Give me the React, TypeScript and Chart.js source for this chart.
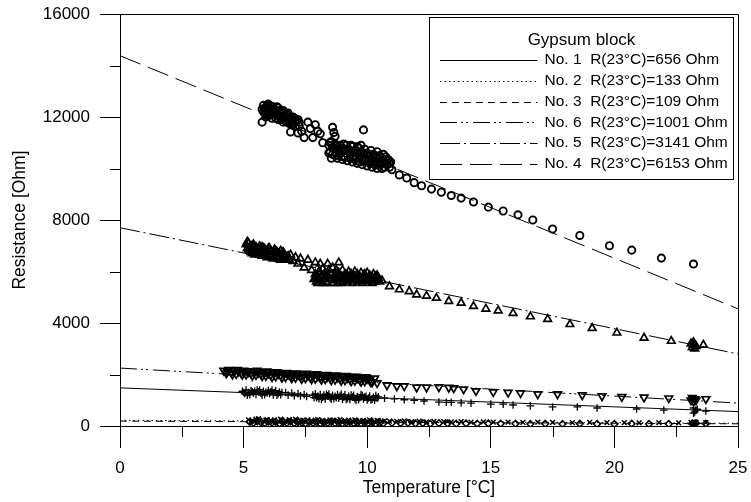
import React, { useEffect, useRef } from 'react';
import { Chart, registerables } from 'chart.js';

Chart.register(...registerables);

// ---------- data ----------
const xTickValues = [0, 5, 10, 15, 20, 25];
const yTickValues = [0, 4000, 8000, 12000, 16000];
const xMinorTicks = [2.5, 7.5, 12.5, 17.5, 22.5];
const yMinorTicks = [2000, 6000, 10000, 14000];

const legendTitle = 'Gypsum block';
const seriesNames = [
  'No. 1  R(23°C)=656 Ohm',
  'No. 2  R(23°C)=133 Ohm',
  'No. 3  R(23°C)=109 Ohm',
  'No. 6  R(23°C)=1001 Ohm',
  'No. 5  R(23°C)=3141 Ohm',
  'No. 4  R(23°C)=6153 Ohm',
];

// fitted lines: value at T=0 and T=25
const fitX = [0, 25];
const fitNo1 = [1480, 560];
const fitNo2 = [220, 105];
const fitNo3 = [190, 85];
const fitNo6 = [2250, 890];
const fitNo5 = [7700, 2800];
const fitNo4 = [14380, 4550];

// measured points [T, R]
const no4Points = [
  [5.75, 12300], [5.8, 12450], [5.85, 12150], [5.9, 12380], [5.95, 12250], [6.0, 12500], [6.0, 12050],
  [6.05, 12320], [6.1, 12200], [6.15, 12420], [6.2, 12100], [6.25, 12300], [6.3, 11950], [6.35, 12200],
  [6.4, 12350], [6.45, 12050], [6.5, 12150], [6.55, 11900], [6.6, 12250], [6.65, 12000], [6.7, 11850],
  [6.75, 12100], [6.8, 11950], [6.85, 11750], [6.9, 12000], [6.95, 11850], [7.0, 11700], [7.05, 11950],
  [7.1, 11800], [7.2, 11900], [5.75, 11800], [5.9, 12100], [6.9, 11420], [7.2, 11380],
  [5.8, 12200], [5.85, 12350], [5.9, 12000], [5.95, 12450], [6.05, 12150], [6.1, 12400], [6.15, 11950],
  [6.2, 12300], [6.3, 12150], [6.35, 12400], [6.4, 11900], [6.45, 12250], [6.5, 12000], [6.55, 12200],
  [6.6, 11800], [6.7, 12050], [6.75, 11800], [6.8, 12150], [6.85, 11950], [6.95, 11700], [7.0, 12000],
  [7.1, 11650], [7.15, 11850], [7.25, 11800],
  [7.25, 11650], [7.35, 11450], [7.45, 11200], [7.6, 11800], [7.7, 11550], [7.8, 11200], [7.9, 11700],
  [8.0, 11450], [8.1, 11350], [8.2, 11000], [8.6, 11600], [8.65, 11400], [8.7, 11250], [9.85, 11500],
  [8.45, 10900], [8.5, 10650], [8.55, 11050], [8.6, 10550], [8.65, 10800], [8.7, 10950], [8.75, 10600],
  [8.8, 10750], [8.85, 10500], [8.9, 10900], [8.95, 10650], [9.0, 10800], [9.05, 10450], [9.1, 10700],
  [9.15, 10900], [9.2, 10550], [9.25, 10750], [9.3, 10400], [9.35, 10650], [9.4, 10850], [9.45, 10500],
  [9.5, 10700], [9.55, 10400], [9.6, 10600], [9.65, 10800], [9.7, 10450], [9.75, 10650], [9.8, 10350],
  [9.85, 10550], [9.9, 10750], [9.95, 10400], [10.0, 10600], [10.05, 10300], [10.1, 10500], [10.15, 10700],
  [10.2, 10350], [10.25, 10550], [10.3, 10250], [10.35, 10450], [10.4, 10650], [10.45, 10300], [10.5, 10500],
  [10.55, 10200], [10.6, 10400], [10.65, 10550], [10.7, 10250], [10.75, 10450], [10.8, 10150], [10.85, 10350],
  [10.9, 10050], [10.95, 10250],
  [8.45, 10600], [8.5, 11000], [8.6, 10800], [8.7, 10500], [8.8, 10400], [8.9, 10600], [9.0, 10350],
  [9.1, 10450], [9.2, 10300], [9.3, 10650], [9.4, 10250], [9.5, 10350], [9.6, 10200], [9.7, 10250],
  [9.8, 10150], [9.9, 10300], [10.0, 10100], [10.1, 10200], [10.2, 10050], [10.3, 10150], [10.4, 10000],
  [10.5, 10100], [10.6, 10000], [10.7, 10050], [10.8, 10300], [10.9, 10200], [8.55, 10400], [8.75, 10900],
  [9.05, 10950], [9.35, 10900], [9.6, 10850], [9.75, 10900],
  [11.0, 9950], [11.3, 9750], [11.6, 9630], [11.9, 9450], [12.2, 9330], [12.6, 9200], [13.0, 9080],
  [13.4, 8950], [13.8, 8850], [14.3, 8700], [14.9, 8500], [15.5, 8350], [16.1, 8200], [16.7, 8000],
  [17.5, 7650], [18.6, 7400], [19.8, 7000], [20.7, 6830], [21.9, 6520], [23.2, 6290],
];

const no5Points = [
  [5.1, 7050], [5.15, 6900], [5.2, 7100], [5.25, 6800], [5.3, 6980], [5.35, 6700], [5.4, 7050], [5.45, 6850],
  [5.5, 6950], [5.55, 6750], [5.6, 6900], [5.65, 6650], [5.7, 6850], [5.75, 6950], [5.8, 6700], [5.85, 6880],
  [5.9, 6600], [5.95, 6800], [6.0, 6900], [6.05, 6650], [6.1, 6800], [6.15, 6550], [6.2, 6750], [6.25, 6850],
  [6.3, 6600], [6.35, 6750], [6.4, 6500], [6.45, 6700], [6.5, 6800], [6.55, 6550], [6.6, 6650], [6.7, 6450],
  [6.8, 6600],
  [5.15, 7150], [5.2, 6850], [5.3, 6750], [5.35, 7000], [5.45, 6650], [5.5, 6800], [5.6, 6700], [5.65, 6980],
  [5.75, 6600], [5.8, 6900], [5.9, 6800], [5.95, 6550], [6.05, 6900], [6.1, 6600], [6.2, 6500], [6.3, 6800],
  [6.4, 6700], [6.5, 6450], [6.6, 6750], [6.7, 6600], [6.75, 6500], [6.85, 6450],
  [6.9, 6650], [7.0, 6400], [7.1, 6550], [7.2, 6300], [7.3, 6500], [7.45, 6150], [7.6, 6450],
  [7.75, 6050], [7.9, 6350], [8.1, 6300], [8.4, 6300], [8.85, 6350],
  [7.85, 5700], [7.9, 5900], [7.95, 5600], [8.0, 5800], [8.05, 6000], [8.1, 5650], [8.15, 5850], [8.2, 6100],
  [8.25, 5700], [8.3, 5950], [8.35, 5600], [8.4, 5800], [8.45, 6050], [8.5, 5700], [8.55, 5900], [8.6, 6150],
  [8.65, 5650], [8.7, 5850], [8.75, 6050], [8.8, 5700], [8.85, 5950], [8.9, 5600], [8.95, 5800], [9.0, 6050],
  [9.05, 5700], [9.1, 5900], [9.15, 5650], [9.2, 5850], [9.25, 6000], [9.3, 5700], [9.35, 5900], [9.4, 5650],
  [9.45, 5850], [9.5, 6000], [9.55, 5700], [9.6, 5900], [9.65, 5650], [9.7, 5800], [9.75, 5950], [9.8, 5700],
  [9.85, 5850], [9.9, 5650], [9.95, 5800], [10.0, 5950], [10.05, 5700], [10.1, 5850], [10.15, 5650],
  [10.2, 5800], [10.25, 5900], [10.3, 5700], [10.35, 5800], [10.4, 5650], [10.45, 5750],
  [7.9, 5750], [8.0, 5550], [8.1, 5950], [8.2, 5550], [8.3, 5800], [8.4, 5550], [8.5, 5950], [8.6, 5550],
  [8.7, 5700], [8.8, 5550], [8.9, 5850], [9.0, 5550], [9.1, 5750], [9.2, 5600], [9.3, 5800], [9.4, 5550],
  [9.5, 5800], [9.6, 5600], [9.7, 5650], [9.8, 5550], [9.9, 5900], [10.0, 5600], [10.1, 5750], [10.2, 5550],
  [10.3, 5600], [10.4, 5850], [10.5, 5600],
  [10.6, 5650], [10.9, 5420], [11.3, 5300], [11.7, 5230], [12.0, 5100], [12.4, 5050], [12.8, 4970],
  [13.3, 4850], [13.8, 4780], [14.3, 4650], [14.8, 4550], [15.3, 4480], [15.9, 4380], [16.6, 4250],
  [17.3, 4150], [18.2, 3950], [19.1, 3800], [20.1, 3620], [21.2, 3420], [22.3, 3300],
  [23.1, 3200], [23.15, 3050], [23.2, 3150], [23.25, 3000], [23.3, 3100], [23.2, 3250], [23.6, 3150],
];

const no6Points = [
  [4.2, 2150], [4.3, 2050], [4.4, 2180], [4.5, 2080], [4.6, 2150], [4.7, 2020], [4.8, 2120], [4.9, 2060],
  [5.0, 2150], [5.1, 2000], [5.2, 2100], [5.3, 2050], [5.4, 2130], [5.5, 1980], [5.6, 2080], [5.7, 2020],
  [5.8, 2100], [5.9, 1950], [6.0, 2050], [6.1, 1990], [6.2, 2080], [6.3, 1930], [6.4, 2030], [6.5, 1970],
  [6.6, 2050], [6.7, 1900], [6.8, 2000], [6.9, 1940], [7.0, 2030], [7.1, 1880], [7.2, 1980], [7.3, 1920],
  [7.4, 2010], [7.5, 1860], [7.6, 1960], [7.7, 1900], [7.8, 1990], [7.9, 1840], [8.0, 1940], [8.1, 1880],
  [8.2, 1970], [8.3, 1820], [8.4, 1920], [8.5, 1860], [8.6, 1950], [8.7, 1800], [8.8, 1900], [8.9, 1840],
  [9.0, 1930], [9.1, 1780], [9.2, 1880], [9.3, 1820], [9.4, 1910], [9.5, 1760], [9.6, 1860], [9.7, 1800],
  [9.8, 1890], [9.9, 1740], [10.0, 1840], [10.1, 1780], [10.2, 1700],
  [4.35, 2120], [4.55, 2000], [4.75, 2180], [4.95, 1990], [5.15, 2130], [5.35, 1950], [5.55, 2150],
  [5.75, 1940], [5.95, 2120], [6.15, 1900], [6.35, 2100], [6.55, 1880], [6.75, 2070], [6.95, 1860],
  [7.15, 2050], [7.35, 1830], [7.55, 2040], [7.75, 1820], [7.95, 2020], [8.15, 1800], [8.35, 1990],
  [8.55, 1780], [8.75, 1970], [8.95, 1760], [9.15, 1950], [9.35, 1740], [9.55, 1920], [9.75, 1720],
  [9.95, 1900], [10.15, 1700], [10.3, 1850],
  [10.4, 1670], [10.8, 1590], [11.2, 1550], [11.5, 1550], [12.0, 1500], [12.4, 1500], [12.9, 1510],
  [13.3, 1490], [13.5, 1470], [13.9, 1430], [14.4, 1360], [15.1, 1320], [15.7, 1300], [16.2, 1280],
  [16.9, 1240], [17.7, 1240], [18.7, 1200], [19.5, 1160], [20.3, 1130], [21.2, 1110], [22.2, 1080],
  [23.1, 1000], [23.15, 1100], [23.2, 950], [23.25, 1050], [23.3, 1000], [23.7, 1050],
];

const no1Points = [
  [4.95, 1350], [5.05, 1250], [5.1, 1400], [5.2, 1300], [5.25, 1220], [5.3, 1380], [5.4, 1280], [5.45, 1350],
  [5.5, 1230], [5.6, 1330], [5.65, 1400], [5.7, 1270], [5.8, 1350], [5.85, 1220], [5.9, 1310], [6.0, 1380],
  [6.05, 1260], [6.1, 1330], [6.2, 1210], [6.25, 1300], [6.3, 1370], [6.4, 1250], [6.45, 1320], [6.5, 1220],
  [5.0, 1300], [5.15, 1200], [5.35, 1330], [5.55, 1400], [5.75, 1200], [5.95, 1280], [6.15, 1400],
  [6.35, 1200], [6.55, 1300],
  [6.7, 1300], [6.8, 1200], [6.95, 1280], [7.05, 1180], [7.2, 1250], [7.3, 1170], [7.45, 1220], [7.55, 1150],
  [7.8, 1200], [7.85, 1100], [7.9, 1250], [8.0, 1150], [8.05, 1060], [8.1, 1220], [8.2, 1120], [8.25, 1200],
  [8.3, 1050], [8.4, 1170], [8.45, 1240], [8.5, 1100], [8.6, 1190], [8.65, 1060], [8.7, 1150], [8.8, 1220],
  [8.85, 1080], [8.9, 1160], [9.0, 1040], [9.05, 1130], [9.1, 1210], [9.2, 1070], [9.25, 1150], [9.3, 1030],
  [9.4, 1120], [9.45, 1190], [9.5, 1060], [9.6, 1140], [9.65, 1020], [9.7, 1100], [9.8, 1180], [9.85, 1050],
  [9.9, 1120], [10.0, 1010], [10.05, 1090], [10.1, 1160], [10.2, 1040], [10.25, 1110], [10.3, 1000],
  [10.4, 1080], [10.45, 1130],
  [7.95, 1100], [8.15, 1040], [8.35, 1230], [8.55, 1040], [8.75, 1100], [8.95, 1230], [9.15, 1030],
  [9.35, 1200], [9.55, 1000], [9.75, 1220], [9.95, 1150], [10.15, 1010], [10.35, 1180],
  [10.7, 1080], [11.1, 1050], [11.5, 1020], [11.9, 1000], [12.3, 970], [12.9, 930], [13.2, 920], [13.4, 920],
  [13.8, 900], [14.2, 890], [15.0, 850], [15.5, 850], [15.9, 815], [16.6, 780], [17.5, 740], [18.5, 740],
  [19.3, 700], [20.9, 660], [22.0, 620],
  [23.2, 700], [23.25, 550], [23.3, 620], [23.2, 500], [23.35, 650], [23.7, 580],
];

const no2Points = [
  [5.2, 240], [5.35, 200], [5.5, 260], [5.65, 220], [5.8, 190], [5.95, 250], [6.1, 210], [6.25, 240],
  [6.4, 180], [6.55, 230], [6.7, 200], [6.85, 250], [7.0, 190], [7.15, 230], [7.3, 210], [7.45, 180],
  [7.6, 240], [7.75, 200], [7.9, 230], [8.05, 180], [8.2, 220], [8.35, 200], [8.5, 240], [8.65, 190],
  [8.8, 220], [8.95, 180], [9.1, 210], [9.25, 230], [9.4, 190], [9.55, 210], [9.7, 180], [9.85, 220],
  [10.0, 190], [10.15, 210], [10.3, 170], [10.45, 200], [10.6, 180],
  [5.3, 180], [5.6, 280], [5.9, 230], [6.2, 170], [6.5, 260], [6.8, 180], [7.1, 260], [7.4, 230],
  [7.7, 170], [8.0, 250], [8.3, 170], [8.6, 220], [8.9, 250], [9.2, 170], [9.5, 240], [9.8, 190],
  [10.1, 240], [10.4, 220], [10.7, 200],
  [10.9, 190], [11.2, 180], [11.5, 200], [11.8, 170], [12.1, 190], [12.4, 160], [12.7, 180], [13.1, 170],
  [13.4, 160], [13.8, 170], [14.2, 150], [14.7, 160], [15.1, 150], [15.7, 150], [16.3, 140], [16.9, 150],
  [17.5, 140], [18.3, 130], [19.0, 140], [19.7, 130], [20.4, 130], [21.0, 120], [21.8, 130], [22.6, 120],
  [23.1, 140], [23.2, 110], [23.3, 150], [23.25, 90], [23.7, 130],
];

const no3Points = [
  [5.25, 160], [5.4, 120], [5.55, 180], [5.7, 140], [5.85, 110], [6.0, 170], [6.15, 130], [6.3, 160],
  [6.45, 100], [6.6, 150], [6.75, 120], [6.9, 170], [7.05, 110], [7.2, 150], [7.35, 130], [7.5, 100],
  [7.65, 160], [7.8, 120], [7.95, 150], [8.1, 100], [8.25, 140], [8.4, 120], [8.55, 160], [8.7, 110],
  [8.85, 140], [9.0, 100], [9.15, 130], [9.3, 150], [9.45, 110], [9.6, 130], [9.75, 100], [9.9, 140],
  [10.05, 110], [10.2, 130], [10.35, 90], [10.5, 120], [10.65, 100],
  [11.0, 120], [11.35, 110], [11.65, 120], [11.95, 100], [12.25, 110], [12.55, 90], [12.9, 110],
  [13.25, 100], [13.6, 90], [14.0, 100], [14.45, 90], [14.9, 100], [15.4, 90], [16.0, 90], [16.6, 80],
  [17.2, 90], [17.9, 80], [18.6, 90], [19.3, 80], [20.0, 80], [20.7, 90], [21.4, 80], [22.2, 80],
  [23.15, 100], [23.2, 60], [23.3, 110], [23.7, 90],
];

// ---------- styling ----------
const FONT = '"Liberation Sans", Arial, Helvetica, sans-serif';
const dashNo1: number[] = [];
const dashNo2 = [1.5, 3];
const dashNo3 = [7, 5];
const dashNo6 = [17, 4, 2, 3, 2, 5];
const dashNo5 = [20, 4, 2, 4];
const dashNo4 = [22, 8];
const legendDashes = [dashNo1, dashNo2, dashNo3, dashNo6, dashNo5, dashNo4];

const toXY = (pts: number[][]) => pts.map(([x, y]) => ({ x, y }));
const fitXY = (vals: number[]) => fitX.map((x, i) => ({ x, y: vals[i] }));

const frameAndLegend = {
  id: 'frameAndLegend',
  afterDraw(chart: any) {
    const { ctx, chartArea, scales } = chart;
    const { left, right, top, bottom } = chartArea;
    ctx.save();
    ctx.strokeStyle = '#000';
    ctx.lineWidth = 1;
    ctx.setLineDash([]);
    // top & right frame
    ctx.beginPath();
    ctx.moveTo(left, Math.round(top) + 0.5);
    ctx.lineTo(Math.round(right) + 0.5, Math.round(top) + 0.5);
    ctx.lineTo(Math.round(right) + 0.5, bottom);
    ctx.stroke();
    // minor ticks
    ctx.beginPath();
    xMinorTicks.forEach((v) => {
      const px = Math.round(scales.x.getPixelForValue(v)) + 0.5;
      ctx.moveTo(px, bottom);
      ctx.lineTo(px, bottom + 11);
    });
    yMinorTicks.forEach((v) => {
      const py = Math.round(scales.y.getPixelForValue(v)) + 0.5;
      ctx.moveTo(left, py);
      ctx.lineTo(left - 10, py);
    });
    ctx.stroke();

    // legend box
    const bx = Math.round(right - 309) + 0.5;
    const by = Math.round(top + 3) + 0.5;
    const bw = 304;
    const bh = 162;
    ctx.fillStyle = '#fff';
    ctx.fillRect(bx, by, bw, bh);
    ctx.strokeRect(bx, by, bw, bh);
    ctx.fillStyle = '#000';
    ctx.textBaseline = 'middle';
    ctx.textAlign = 'center';
    ctx.font = `17px ${FONT}`;
    ctx.fillText(legendTitle, bx + bw / 2, top + 26);
    ctx.textAlign = 'left';
    ctx.font = `15.5px ${FONT}`;
    seriesNames.forEach((name, i) => {
      const ry = top + 46 + i * 20.8;
      ctx.setLineDash(legendDashes[i]);
      ctx.beginPath();
      ctx.moveTo(bx + 10.5, Math.round(ry) + 0.5);
      ctx.lineTo(bx + 108, Math.round(ry) + 0.5);
      ctx.stroke();
      ctx.setLineDash([]);
      ctx.fillText(name, bx + 115, ry);
    });
    ctx.restore();
  },
};

const zeroPad = (s: any) => {
  s.paddingTop = 0;
  s.paddingBottom = 0;
  s.paddingLeft = 0;
  s.paddingRight = 0;
};

export default function App() {
  const canvasRef = useRef<HTMLCanvasElement | null>(null);

  useEffect(() => {
    document.body.style.margin = '0';
    const canvas = canvasRef.current;
    if (!canvas) return;

    const markerBase = {
      showLine: false,
      borderColor: '#000',
      backgroundColor: 'rgba(0,0,0,0)',
      pointBorderColor: '#000',
      pointBackgroundColor: 'rgba(0,0,0,0)',
    };
    const fitBase = {
      showLine: true,
      borderColor: '#000',
      borderWidth: 1,
      pointRadius: 0,
      fill: false,
    };

    const chart = new Chart(canvas, {
      type: 'scatter',
      data: {
        datasets: [
          { ...fitBase, label: seriesNames[0], data: fitXY(fitNo1), borderDash: dashNo1 },
          { ...fitBase, label: seriesNames[1], data: fitXY(fitNo2), borderDash: dashNo2 },
          { ...fitBase, label: seriesNames[2], data: fitXY(fitNo3), borderDash: dashNo3 },
          { ...fitBase, label: seriesNames[3], data: fitXY(fitNo6), borderDash: dashNo6 },
          { ...fitBase, label: seriesNames[4], data: fitXY(fitNo5), borderDash: dashNo5 },
          { ...fitBase, label: seriesNames[5], data: fitXY(fitNo4), borderDash: dashNo4 },
          { ...markerBase, label: 'No. 4 data', data: toXY(no4Points), pointStyle: 'circle', pointRadius: 3.6, pointBorderWidth: 1.9 },
          { ...markerBase, label: 'No. 5 data', data: toXY(no5Points), pointStyle: 'triangle', pointRadius: 4.4, pointBorderWidth: 1.7 },
          { ...markerBase, label: 'No. 6 data', data: toXY(no6Points), pointStyle: 'triangle', pointRotation: 180, pointRadius: 4.4, pointBorderWidth: 1.7 },
          { ...markerBase, label: 'No. 1 data', data: toXY(no1Points), pointStyle: 'cross', pointRadius: 3.8, pointBorderWidth: 1.3 },
          { ...markerBase, label: 'No. 2 data', data: toXY(no2Points), pointStyle: 'crossRot', pointRadius: 3.4, pointBorderWidth: 1.5 },
          { ...markerBase, label: 'No. 3 data', data: toXY(no3Points), pointStyle: 'rectRot', pointRadius: 3.4, pointBorderWidth: 1.5 },
        ] as any,
      },
      options: {
        animation: false,
        responsive: false,
        events: [],
        layout: { padding: { top: 14, right: 13, left: 0, bottom: 0 } },
        plugins: {
          legend: { display: false },
          tooltip: { enabled: false },
        },
        scales: {
          x: {
            type: 'linear',
            position: 'bottom',
            min: 0,
            max: 25,
            afterFit: (s: any) => { s.height = 76; zeroPad(s); },
            afterBuildTicks: (s: any) => { s.ticks = xTickValues.map((v) => ({ value: v })); },
            ticks: {
              color: '#000',
              font: { family: FONT, size: 17 },
              padding: 10,
              maxRotation: 0,
              autoSkip: false,
              callback: (v: any) => String(v),
            },
            grid: { drawOnChartArea: false, drawTicks: true, tickLength: 22, tickColor: '#000', tickWidth: 1 },
            border: { display: true, color: '#000', width: 1 },
            title: {
              display: true,
              text: 'Temperature [°C]',
              color: '#000',
              font: { family: FONT, size: 17.5 },
              padding: { top: 0, bottom: 3 },
            },
          },
          y: {
            type: 'linear',
            min: 0,
            max: 16000,
            afterFit: (s: any) => { s.width = 120; zeroPad(s); },
            afterBuildTicks: (s: any) => { s.ticks = yTickValues.map((v) => ({ value: v })); },
            ticks: {
              color: '#000',
              font: { family: FONT, size: 17 },
              padding: 10,
              autoSkip: false,
              callback: (v: any) => String(v),
            },
            grid: { drawOnChartArea: false, drawTicks: true, tickLength: 20, tickColor: '#000', tickWidth: 1 },
            border: { display: true, color: '#000', width: 1 },
            title: {
              display: true,
              text: 'Resistance [Ohm]',
              color: '#000',
              font: { family: FONT, size: 17.5 },
              padding: { top: 10, bottom: 0 },
            },
          },
        },
      } as any,
      plugins: [frameAndLegend],
    });

    return () => chart.destroy();
  }, []);

  return (
    <div style={{ width: 751, height: 502 }}>
      <canvas ref={canvasRef} width={751} height={502} style={{ display: 'block' }} />
    </div>
  );
}
